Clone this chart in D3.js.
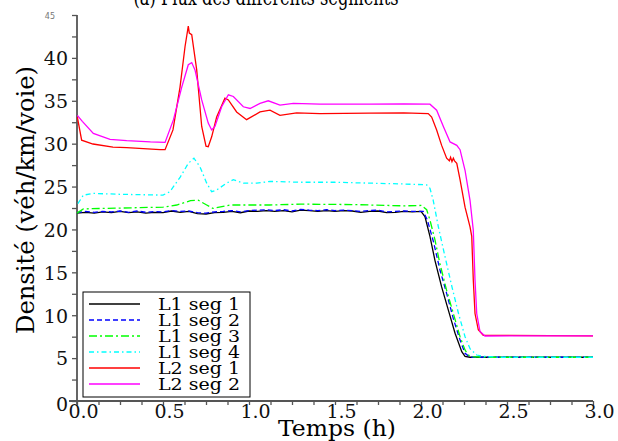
<!DOCTYPE html>
<html>
<head>
<meta charset="utf-8">
<script src="https://cdn.jsdelivr.net/npm/d3@7"></script>
<style>
  body { margin: 0; background: #fff; }
  svg { display: block; font-family: "DejaVu Serif", serif; }
</style>
</head>
<body>
<div class="canvas"></div>
<script>
// Data (time in hours, density in veh/km/lane)
const tL1s1 = [0, .05, .1, .15, .2, .25, .3, .35, .4, .45, .5, .55, .6, .65, .7, .75, .8, .85, .9, .95, 1.0,
  1.05, 1.1, 1.15, 1.2, 1.25, 1.3, 1.35, 1.4, 1.45, 1.5, 1.55, 1.6, 1.65, 1.7, 1.75, 1.8, 1.85, 1.9, 1.95, 2.0,
  2.023, 2.052, 2.081, 2.12, 2.159, 2.198, 2.237, 2.256, 2.285, 2.4, 3.0];
const vL1s1 = [21.9, 22.0, 21.9, 22.05, 21.95, 22.1, 21.95, 22.05, 21.9, 22.0, 21.95, 22.15, 22.0, 22.1, 21.85, 21.8, 21.95, 22.0, 22.1, 21.95, 22.15,
  22.1, 22.2, 22.1, 22.2, 22.05, 22.25, 22.2, 22.1, 22.2, 22.1, 22.2, 22.15, 22.0, 22.1, 22.15, 21.95, 22.0, 22.1, 22.05, 22.1,
  21.5, 19.2, 16.4, 13.3, 10.6, 7.9, 5.75, 5.2, 5.1, 5.1, 5.1];

const tL1s2 = [0, .05, .1, .15, .2, .25, .3, .35, .4, .45, .5, .55, .6, .65, .7, .75, .8, .85, .9, .95, 1.0,
  1.05, 1.1, 1.15, 1.2, 1.25, 1.3, 1.35, 1.4, 1.45, 1.5, 1.55, 1.6, 1.65, 1.7, 1.75, 1.8, 1.85, 1.9, 1.95, 2.013,
  2.037, 2.072, 2.11, 2.149, 2.188, 2.227, 2.256, 2.285, 2.4, 3.0];
const vL1s2 = [21.95, 22.1, 22.0, 22.1, 22.05, 22.15, 22.0, 22.15, 22.0, 22.1, 22.05, 22.2, 22.1, 22.15, 21.95, 21.9, 22.05, 22.1, 22.2, 22.05, 22.2,
  22.25, 22.3, 22.2, 22.3, 22.15, 22.35, 22.25, 22.2, 22.3, 22.2, 22.25, 22.2, 22.1, 22.2, 22.25, 22.05, 22.1, 22.15, 22.1, 22.1,
  21.1, 18.6, 15.3, 12.55, 9.6, 7.1, 5.56, 5.1, 5.1, 5.1];

const tL1s3 = [0, .037, .15, .5, .58, .66, .705, .754, .79, .89, 1.12, 1.3, 1.6, 1.9, 2.004,
  2.033, 2.052, 2.081, 2.11, 2.149, 2.188, 2.227, 2.256, 2.275, 2.304, 2.4, 3.0];
const vL1s3 = [21.9, 22.4, 22.45, 22.6, 22.85, 23.35, 23.4, 22.85, 22.45, 22.85, 22.85, 22.95, 22.9, 22.75, 22.8,
  22.3, 21.1, 18.8, 16.0, 12.9, 10.2, 7.5, 5.95, 5.36, 5.15, 5.1, 5.1];

const tL1s4 = [0.005, .037, .095, .25, .5, .54, .6, .647, .68, .715, .754, .783, .812, .87, .909, .967, 1.045, 1.122, 1.3, 1.5, 1.7, 1.9, 2.033,
  2.052, 2.071, 2.101, 2.14, 2.18, 2.218, 2.256, 2.285, 2.324, 2.363, 2.45, 3.0];
const vL1s4 = [23.0, 24.0, 24.2, 24.1, 24.0, 24.4, 26.1, 27.7, 28.3, 27.3, 25.4, 24.4, 24.6, 25.4, 25.8, 25.4, 25.4, 25.6, 25.5, 25.5, 25.4, 25.3, 25.2,
  24.8, 23.4, 20.3, 16.8, 13.3, 10.2, 7.5, 6.1, 5.36, 5.2, 5.1, 5.1];

const tL2s1 = [0.002, .027, .093, .209, .289, .483, .512, .558, .599, .628, .647, .653, .667, .696, .725, .75, .763, .783, .812, .86, .88, .928, .986,
  1.064, 1.122, 1.18, 1.277, 1.413, 1.7, 1.9, 2.042, 2.062, 2.091, 2.12, 2.149, 2.165, 2.172, 2.18, 2.188, 2.195, 2.208, 2.227, 2.256,
  2.285, 2.295, 2.304, 2.314, 2.333, 2.362, 3.0];
const vL2s1 = [33.1, 30.4, 29.96, 29.6, 29.55, 29.3, 29.3, 31.6, 36.6, 41.3, 43.7, 42.9, 42.7, 38.6, 32.0, 29.7, 29.65, 30.8, 33.1, 35.3, 35.1, 33.7, 32.8,
  33.7, 33.9, 33.3, 33.6, 33.5, 33.55, 33.6, 33.5, 33.1, 31.6, 29.8, 28.3, 28.0, 28.4, 27.9, 28.3, 28.0, 27.7, 25.8, 22.6,
  20.3, 19.2, 14.1, 10.2, 8.3, 7.66, 7.6];

const tL2s2 = [0.002, .031, .095, .192, .289, .427, .512, .561, .609, .647, .667, .686, .725, .763, .783, .802, .841, .88, .909, .967, 1.006,
  1.064, 1.112, 1.18, 1.258, 1.413, 1.7, 1.9, 2.052, 2.091, 2.13, 2.169, 2.208, 2.227, 2.256, 2.285, 2.304, 2.314, 2.324, 2.343, 2.372, 3.0];
const vL2s2 = [33.3, 32.6, 31.2, 30.5, 30.35, 30.2, 30.15, 32.8, 36.6, 39.2, 39.45, 38.6, 35.1, 32.4, 31.6, 32.0, 34.3, 35.7, 35.5, 34.3, 34.1,
  34.7, 35.0, 34.5, 34.7, 34.6, 34.6, 34.65, 34.6, 33.9, 32.0, 30.2, 29.8, 29.3, 26.9, 23.4, 19.9, 14.1, 10.2, 8.1, 7.58, 7.6];

const seriesNames = ['L1 seg 1', 'L1 seg 2', 'L1 seg 3', 'L1 seg 4', 'L2 seg 1', 'L2 seg 2'];
const seriesTimes = [tL1s1, tL1s2, tL1s3, tL1s4, tL2s1, tL2s2];
const seriesValues = [vL1s1, vL1s2, vL1s3, vL1s4, vL2s1, vL2s2];
const seriesColours = ['#000000', '#0000ff', '#00ff00', '#00ffff', '#ff0000', '#ff00ff'];
const seriesDashes = [null, '5,3', '8,3,2,3', '5,3,1.5,3', null, null];

const xTicks = d3.range(0, 3.001, 0.125);
const yTicks = d3.range(0, 45.001, 2.5);

// Setup
const width = 618, height = 441;
const plot = { left: 77, right: 593, top: 15, bottom: 401 };
const serif = '"DejaVu Serif", serif';

const svg = d3.select('.canvas')
  .append('svg')
  .attr('width', width)
  .attr('height', height);

const x = d3.scaleLinear().domain([0, 3]).range([plot.left, plot.right]);
const y = d3.scaleLinear().domain([0, 45]).range([plot.bottom, plot.top]);

const axisColour = '#555';

// x axis
const xAxis = svg.append('g')
  .attr('transform', `translate(0, ${plot.bottom})`)
  .call(d3.axisBottom(x)
    .tickValues(xTicks)
    .tickSize(4)
    .tickSizeOuter(0)
    .tickFormat(d => Math.abs(d * 2 - Math.round(d * 2)) < 1e-6 ? d3.format('.1f')(d) : ''));
xAxis.select('.domain').remove();
xAxis.selectAll('line').attr('stroke', axisColour).attr('stroke-width', 1.3);
xAxis.selectAll('text')
  .attr('font-family', serif)
  .attr('font-size', 19)
  .attr('fill', '#111')
  .attr('dx', 6)
  .attr('y', 3)
  .attr('dy', '0.75em');

// y axis
const yAxis = svg.append('g')
  .attr('transform', `translate(${plot.left}, 0)`)
  .call(d3.axisLeft(y)
    .tickValues(yTicks)
    .tickSize(5)
    .tickSizeOuter(0)
    .tickFormat(d => (d % 5 === 0 && d < 45) ? d : ''));
yAxis.select('.domain').remove();
yAxis.selectAll('line').attr('stroke', axisColour).attr('stroke-width', 1.3);
yAxis.selectAll('text')
  .attr('font-family', serif)
  .attr('font-size', 19)
  .attr('fill', '#111')
  .attr('x', -9)
  .attr('dy', d => d === 0 ? '0.5em' : '0.36em');

// the little grey "45" at the top
svg.append('text')
  .attr('x', plot.left - 22)
  .attr('y', y(45) + 4)
  .attr('text-anchor', 'end')
  .attr('font-family', '"DejaVu Sans", sans-serif')
  .attr('font-size', 8)
  .attr('fill', '#777')
  .text('45');

// axis lines (slightly overshooting at the origin)
svg.append('line')
  .attr('x1', plot.left - 8).attr('x2', plot.right)
  .attr('y1', plot.bottom).attr('y2', plot.bottom)
  .attr('stroke', axisColour).attr('stroke-width', 1.8);
svg.append('line')
  .attr('x1', plot.left).attr('x2', plot.left)
  .attr('y1', plot.top).attr('y2', plot.bottom + 4)
  .attr('stroke', axisColour).attr('stroke-width', 1.8);

// curves
const line = d3.line()
  .x(d => x(d[0]))
  .y(d => y(d[1]));

const series = seriesNames.map((name, i) => ({
  name,
  colour: seriesColours[i],
  dash: seriesDashes[i],
  points: seriesTimes[i].map((t, j) => [t, seriesValues[i][j]])
}));

svg.append('g')
  .selectAll('path')
  .data(series)
  .enter()
  .append('path')
    .attr('d', d => line(d.points))
    .attr('fill', 'none')
    .attr('stroke', d => d.colour)
    .attr('stroke-width', 1.3)
    .attr('stroke-dasharray', d => d.dash);

// titles
svg.append('text')
  .attr('x', 266)
  .attr('y', 5)
  .attr('text-anchor', 'middle')
  .attr('font-size', 22)
  .attr('textLength', 265)
  .attr('lengthAdjust', 'spacingAndGlyphs')
  .text('(a) Flux des différents segments');

svg.append('text')
  .attr('x', 337)
  .attr('y', 436)
  .attr('text-anchor', 'middle')
  .attr('font-size', 23)
  .attr('textLength', 118)
  .attr('lengthAdjust', 'spacingAndGlyphs')
  .text('Temps (h)');

svg.append('text')
  .attr('transform', 'translate(34, 200) rotate(-90)')
  .attr('text-anchor', 'middle')
  .attr('font-size', 24)
  .attr('textLength', 268)
  .attr('lengthAdjust', 'spacingAndGlyphs')
  .text('Densité (véh/km/voie)');

// legend
const legendGroup = svg.append('g');
legendGroup.append('rect')
  .attr('x', 83).attr('y', 292)
  .attr('width', 167).attr('height', 105)
  .attr('fill', '#fff')
  .attr('stroke', '#000')
  .attr('stroke-width', 1);

const rows = legendGroup.selectAll('g.row')
  .data(series)
  .enter()
  .append('g')
    .attr('class', 'row')
    .attr('transform', (d, i) => `translate(0, ${304 + i * 16})`);

rows.append('line')
  .attr('x1', 89).attr('x2', 140)
  .attr('stroke', d => d.colour)
  .attr('stroke-width', 1.3)
  .attr('stroke-dasharray', d => d.dash);

rows.append('text')
  .attr('x', 158)
  .attr('y', 6)
  .attr('font-size', 16)
  .attr('textLength', 82)
  .attr('lengthAdjust', 'spacingAndGlyphs')
  .text(d => d.name);
</script>
</body>
</html>
